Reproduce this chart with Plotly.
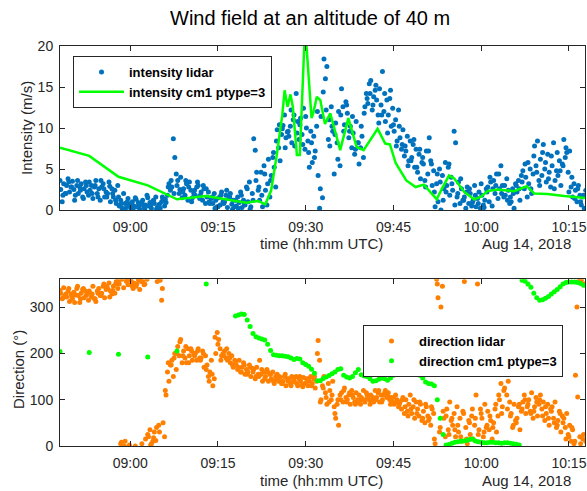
import pandas as pd
import plotly.graph_objects as go

# ---------------- data ----------------
T0 = pd.Timestamp("2018-08-14 08:48:00")
T_END = pd.Timestamp("2018-08-14 10:17:45")

# lidar samples, main scan: 4 samples per minute starting 08:48
LIDAR_PER_MIN = 4
speed_lidar = [
    2.5, 1.0, 3.2, 2.0,  3.0, 3.8, 2.2, 2.8,  3.5, 2.5, 1.8, 3.0,  2.0, 2.8, 3.2, 1.6,
    2.6, 3.4, 2.2, 1.8,  2.4, 3.0, 1.4, 2.8,  3.6, 2.0, 2.6, 1.2,  2.8, 3.2, 1.6, 2.2,
    2.0, 3.4, 1.0, 2.6,  1.6, 2.4, 0.8, 3.0,  0.5, 1.2, 0.2, 2.0,  0.8, 0.3, 1.4, 0.6,
    0.2, 1.0, 0.5, 1.5,  0.4, 0.9, 0.1, 0.7,  1.2, 0.3, 0.6, 1.8,  0.5, 0.9, 0.2, 1.1,
    0.8, 1.6, 0.3, 0.6,  0.2, 1.0, 1.3, 0.5,  0.9, 1.8, 3.2, 2.4,  2.8, 8.7, 6.4, 4.4,
    3.6, 2.0, 4.0, 1.5,  2.6, 1.8, 3.2, 1.2,  3.4, 2.4, 1.5, 2.0,  1.8, 2.8, 3.0, 1.4,
    2.2, 1.2, 2.6, 0.8,  1.6, 2.2, 0.8, 1.4,  0.8, 2.0, 1.2, 0.4,  1.5, 0.6, 2.2, 1.0,
    1.0, 1.8, 0.3, 1.4,  2.0, 0.7, 1.2, 0.4,  0.5, 1.6, 0.9, 2.2,  0.3, 1.2, 0.6, 2.8,
    1.0, 3.4, 0.4, 2.0,  8.7, 7.3, 4.6, 2.4,  1.2, 4.6, 0.4, 5.4,  2.4, 0.6, 6.2, 1.6,
    4.2, 6.4, 5.2, 2.8,  9.8, 7.6, 6.0, 9.2,  10.3, 11.6, 8.8, 9.5,  9.0, 10.2, 8.2, 11.0,
    7.8, 14.2, 10.8, 8.6,  11.2, 9.2, 12.4, 7.4,  10.0, 8.4, 5.2, 9.6,  5.8, 9.0, 7.2, 10.2,
    4.2, 0.2, 11.4, 1.5,  18.4, 16.0, 17.5, 8.6,  7.8, 12.6, 9.6, 4.4,  10.6, 8.2, 12.0, 5.4,
    14.8, 12.6, 10.4, 13.2,  11.8, 8.8, 10.2, 7.6,  9.4, 6.8, 10.8, 8.2,  5.6, 7.6, 9.0, 6.4,
    12.6, 14.2, 13.0, 15.4,  15.8, 12.2, 13.8, 14.6,  13.4, 11.6, 14.8, 12.8,  16.9, 12.0, 10.8, 13.4,
    11.6, 13.6, 10.2, 12.4,  9.6, 11.0, 8.4, 12.2,  8.8, 7.4, 9.8, 6.6,  7.2, 9.0, 6.0, 8.4,
    6.4, 8.0, 5.2, 7.4,  4.6, 6.8, 3.8, 5.8,  5.6, 3.6, 7.2, 4.4,  8.8, 6.0, 3.0, 4.8,
    0.4, 3.2, 1.0, 5.0,  0.0, 4.2, 2.6, 5.8,  3.0, 5.2, 1.8, 4.0,  2.4, 9.6, 8.2, 1.6,
    3.4, 0.8, 2.6, 1.2,  1.6, 0.2, 2.8, 0.8,  2.0, 0.5, 1.2, 3.0,  0.4, 1.4, 2.2, 0.2,
    1.8, 0.6, 1.2, 2.6,  2.8, 1.0, 3.4, 0.5,  3.6, 2.0, 4.4, 1.4,  2.6, 5.4, 3.0, 1.6,
    1.8, 3.8, 2.4, 0.8,  1.0, 2.6, 0.2, 3.2,  2.2, 3.6, 1.2, 4.2,  4.8, 2.6, 4.0, 1.6,
    3.2, 5.0, 2.0, 4.4,  7.8, 5.4, 8.4, 3.6,  6.2, 4.2, 8.0, 5.0,  3.4, 6.8, 4.6, 2.8,
    5.4, 8.2, 3.6, 4.8,  4.2, 6.0, 3.0, 5.6,  8.6, 6.4, 7.0, 4.6,  7.2, 2.8, 1.6, 3.2,
    2.4, 1.0, 3.0, 1.8,  0.6, 1.6, 0.2, 2.4,
]
# lidar samples, second scan: 2 samples per minute starting 08:48
LIDAR_B_PER_MIN = 2
speed_lidar_b = [
    3.6, 1.8,  2.0, 3.4,  2.8, 1.2,  3.6, 2.4,  1.4, 3.0,  3.4, 2.0,  3.0, 1.6,  3.6, 2.6,
    1.6, 2.9,  2.0, 1.2,  1.6, 0.8,  0.1, 1.0,  0.7, 0.1,  1.3, 0.5,  0.9, 0.1,  1.5, 0.6,
    1.2, 0.1,  0.7, 1.6,  1.3, 2.8,  3.6, 2.0,  3.0, 2.5,  2.2, 3.6,  2.8, 1.0,  2.4, 3.4,
    1.8, 3.0,  2.6, 1.0,  1.6, 0.2,  0.4, 1.8,  0.8, 2.4,  1.6, 0.1,  1.2, 0.2,  1.8, 0.8,
    2.6, 0.1,  1.2, 3.6,  2.8, 1.8,  4.4, 3.2,  3.6, 7.0,  8.4, 10.4,  9.9, 7.6,  9.6, 12.2,
    11.6, 9.4,  10.4, 8.0,  11.4, 7.0,  8.2, 6.4,  12.0, 2.6,  14.4, 12.2,  11.0, 10.2,  9.2, 6.2,
    11.6, 9.6,  12.8, 9.6,  11.4, 7.4,  8.2, 10.2,  11.8, 13.6,  14.2, 12.8,  15.2, 10.6,  11.6, 14.2,
    9.4, 14.6,  10.4, 7.8,  10.2, 8.0,  7.8, 5.4,  6.0, 8.6,  5.2, 7.4,  6.4, 2.8,  7.2, 5.6,
    2.2, 4.4,  3.4, 1.2,  2.2, 5.6,  3.2, 0.6,  2.0, 3.8,  1.2, 2.2,  2.6, 0.9,  1.8, 0.8,
    3.2, 0.3,  2.2, 4.0,  2.6, 3.0,  4.4, 2.0,  3.0, 1.2,  1.6, 2.0,  3.0, 2.6,  3.4, 5.6,
    5.8, 2.6,  6.6, 4.6,  3.0, 7.0,  5.8, 3.8,  6.6, 2.6,  7.0, 4.8,  5.4, 7.6,  2.2, 4.0,
    1.4, 2.6,  1.0, 1.8,
]

dir_lidar = [
    330, 318, 342, 325,  322, 335, 312, 328,  318, 332, 326, 340,  325, 310, 330, 338,
    320, 335, 328, 315,  330, 322, 345, 318,  312, 335, 340, 325,  330, 345, 320, 338,
    340, 352, 335, 328,  345, 330, 355, 340,  350, 5, 360, 342,  10, 355, 348, 2,
    358, 345, 352, 0,  350, 360, 338, 355,  355, 348, 15, 360,  20, 35, 5, 10,
    30, 12, 355, 45,  358, 315, 50, 20,  110, 160, 140, 175,  185, 150, 200, 165,
    215, 195, 230, 180,  205, 190, 180, 210,  195, 210, 185, 200,  200, 185, 210, 190,
    190, 205, 170, 195,  175, 150, 160, 185,  130, 145, 200, 245,  230, 210, 195, 200,
    205, 190, 185, 200,  180, 195, 170, 185,  175, 165, 185, 160,  170, 180, 155, 165,
    160, 175, 150, 168,  165, 145, 170, 155,  185, 155, 140, 160,  150, 165, 140, 155,
    145, 160, 135, 150,  155, 140, 148, 135,  140, 150, 130, 145,  145, 135, 150, 140,
    138, 150, 130, 145,  140, 132, 148, 135,  145, 130, 140, 150,  135, 145, 125, 140,
    228, 185, 100, 130,  150, 115, 90, 135,  120, 100, 140, 85,  60, 90, 45, 110,
    115, 95, 125, 105,  100, 110, 90, 120,  105, 95, 115, 100,  110, 90, 100, 120,
    95, 115, 105, 100,  110, 100, 95, 120,  105, 115, 95, 110,  100, 110, 120, 105,
    115, 100, 105, 95,  90, 110, 100, 85,  95, 80, 105, 70,  100, 75, 90, 110,
    70, 85, 60, 95,  80, 65, 90, 55,  75, 50, 85, 65,  60, 45, 80, 70,
    5, 360, 320, 30,  300, 345, 60, 20,  80, 35, 95, 55,  45, 70, 20, 85,
    30, 60, 10, 75,  355, 40, 5, 55,  25, 65, 15, 45,  110, 350, 35, 80,
    60, 20, 90, 40,  75, 35, 55, 15,  50, 80, 30, 65,  100, 135, 85, 120,
    155, 110, 140, 95,  70, 40, 90, 55,  60, 85, 35, 75,  95, 110, 70, 85,
    100, 75, 115, 60,  85, 105, 65, 90,  110, 80, 95, 55,  70, 90, 45, 80,
    85, 60, 95, 40,  55, 75, 30, 65,  60, 40, 70, 25,  45, 10, 35, 5,
    153, 300, 355, 20,  358, 15, 350, 10,
]
dir_lidar_b = [
    336, 320,  328, 340,  322, 310,  345, 318,  340, 325,  335, 328,  318, 330,  325, 350,
    345, 322,  336, 350,  355, 8,  0, 358,  348, 340,  345, 358,  5, 350,  25, 2,
    18, 40,  30, 340,  120, 180,  175, 190,  200, 225,  195, 215,  180, 205,  195, 205,
    185, 200,  165, 140,  155, 235,  220, 185,  195, 210,  190, 175,  180, 170,  160, 175,
    155, 170,  160, 150,  150, 165,  145, 160,  155, 140,  145, 150,  135, 155,  140, 130,
    145, 135,  150, 128,  135, 145,  130, 150,  200, 95,  125, 105,  95, 110,  70, 100,
    100, 120,  95, 115,  110, 90,  95, 105,  100, 110,  90, 105,  100, 120,  95, 115,
    110, 90,  105, 95,  90, 100,  85, 65,  80, 100,  70, 95,  60, 90,  55, 85,
    15, 350,  40, 75,  65, 25,  60, 35,  45, 20,  70, 15,  50, 80,  60, 25,
    70, 30,  45, 65,  40, 90,  110, 70,  125, 80,  65, 45,  50, 90,  80, 100,
    90, 70,  75, 95,  100, 65,  85, 60,  75, 50,  45, 70,  50, 15,  20, 40,
    10, 106,  5, 25,
]

# cm1 simulated intensity (minutes after 08:48, m/s)
speed_cm1_min = [0, 5, 10, 15, 20, 25, 30, 31.9, 33.9, 35.1, 36.1, 37.1, 38.0, 38.4, 38.9,
                 39.4, 39.8, 40.2, 40.5, 41.0, 41.9, 43.0, 43.3, 43.9, 44.5, 45.3, 46.2,
                 47.9, 49.3, 50.7, 51.9, 54.3, 55.6, 56.4, 57.4, 59.2, 60.8, 62.2, 63.6,
                 64.4, 65.3, 66.5, 67.4, 69.1, 70.8, 71.9, 73.1, 74.8, 77.6, 78.8, 79.8,
                 81.1, 83.3, 86.2, 89.0, 89.8]
speed_cm1 = [7.6, 6.6, 4.05, 3.0, 1.3, 1.7, 1.1, 0.9, 1.1, 0.7, 2.4, 6.9, 11.6, 14.6, 12.6,
             14.1, 12.6, 9.7, 6.7, 6.7, 22.5, 11.2, 11.8, 13.8, 13.4, 10.5, 11.8,
             7.3, 11.2, 7.7, 7.3, 9.9, 8.1, 8.0, 5.7, 3.6, 2.8, 3.1, 2.0,
             1.3, 2.6, 4.2, 3.85, 2.2, 1.3, 1.6, 2.3, 2.5, 2.3, 2.6, 2.9,
             2.0, 1.95, 1.7, 1.5, 1.45]

# cm1 simulated direction: 5-min output until 09:13, then 30-s output from 09:18
dir_cm1_sparse_min = [0, 5, 10, 15, 20, 25]
dir_cm1_sparse = [204, 202, 198, 192, 205, 350]
DENSE_START_MIN = 30.0
DENSE_STEP_MIN = 0.5
dir_cm1_dense = [
    281, 283, 285, 284, 272, 258, 243, 236, 233, 231,
    229, 220, 206, 197, 196, 195, 195, 194, 193, 190,
    187, 189, 188, 180, 176, 172, 166, 157, 141, 141,
    146, 149, 152, 156, 160, 165, 167, 153, 149, 147,
    150, 158, 165, 154, 151, 150, 145, 140, 141, 144,
    147, 145, 142, 147, 153, 158, 162, 164, 165, 164,
    165, 162, 158, 153, 147, 138, 135, 134, 130, 100,
    60, 25, 2, 3, 6, 8, 9, 10, 11, 12,
    14, 15, 11, 9, 8, 7, 7, 8, 8, 7,
    7, 6, 7, 7, 6, 5, 4, 2, 358, 356,
    350, 343, 330, 320, 315, 316, 319, 323, 328, 333,
    338, 344, 350, 353, 354, 354, 354, 353, 351, 347,
]

speed_ticks = [0, 5, 10, 15, 20]
dir_ticks = [0, 100, 200, 300]

# ---------------- helpers ----------------
def to_time(minutes):
    return [T0 + pd.Timedelta(minutes=float(m)) for m in minutes]

def sample_minutes(n, per_min, phase):
    return [(i + phase) / per_min for i in range(n)]

speed_t = (sample_minutes(len(speed_lidar), LIDAR_PER_MIN, 0.5)
           + sample_minutes(len(speed_lidar_b), LIDAR_B_PER_MIN, 0.0))
speed_v = speed_lidar + speed_lidar_b
dir_t = (sample_minutes(len(dir_lidar), LIDAR_PER_MIN, 0.5)
         + sample_minutes(len(dir_lidar_b), LIDAR_B_PER_MIN, 0.0))
dir_v = dir_lidar + dir_lidar_b

dir_cm1_min = dir_cm1_sparse_min + [DENSE_START_MIN + DENSE_STEP_MIN * k for k in range(len(dir_cm1_dense))]
dir_cm1 = dir_cm1_sparse + dir_cm1_dense

BLUE = "#0072BD"
ORANGE = "#FF8000"
GREEN = "#00FF00"
AX = "#262626"
FONT = "Liberation Sans, Arial, sans-serif"

fig = go.Figure()
fig.add_trace(go.Scatter(x=to_time(speed_t), y=speed_v, mode="markers",
                         marker=dict(color=BLUE, size=5, line=dict(width=0)),
                         name="intensity lidar", xaxis="x", yaxis="y", legend="legend"))
fig.add_trace(go.Scatter(x=to_time(speed_cm1_min), y=speed_cm1, mode="lines",
                         line=dict(color=GREEN, width=2.5),
                         name="intensity cm1 ptype=3", xaxis="x", yaxis="y", legend="legend"))
fig.add_trace(go.Scatter(x=to_time(dir_t), y=dir_v, mode="markers",
                         marker=dict(color=ORANGE, size=5, line=dict(width=0)),
                         name="direction lidar", xaxis="x2", yaxis="y2", legend="legend2"))
fig.add_trace(go.Scatter(x=to_time(dir_cm1_min), y=dir_cm1, mode="markers",
                         marker=dict(color=GREEN, size=5, line=dict(width=0)),
                         name="direction cm1 ptype=3", xaxis="x2", yaxis="y2", legend="legend2"))

xcommon = dict(type="date", range=[T0, T_END], tickformat="%H:%M",
               tick0="2018-08-14 09:00:00", dtick=15 * 60 * 1000,
               ticks="inside", ticklen=5, tickcolor=AX, showline=True, linecolor=AX,
               linewidth=1, mirror="ticks", showgrid=False, zeroline=False,
               tickfont=dict(family=FONT, size=14, color=AX), ticklabelstandoff=4)
ycommon = dict(ticks="inside", ticklen=5, tickcolor=AX, showline=True, linecolor=AX,
               linewidth=1, mirror="ticks", showgrid=False, zeroline=False,
               tickfont=dict(family=FONT, size=14, color=AX), ticklabelstandoff=3)

top_dom = [(446 - 210) / 400, 1.0]
bot_dom = [0.0, (446 - 279.3) / 400]

fig.update_layout(
    width=587, height=491,
    margin=dict(l=60, r=2, t=46, b=45, autoexpand=False),
    paper_bgcolor="white", plot_bgcolor="white",
    font=dict(family=FONT, color=AX),
    xaxis=dict(**xcommon, domain=[0, 1], anchor="y"),
    yaxis=dict(**ycommon, domain=top_dom, anchor="x", range=[0, 20], tickvals=speed_ticks),
    xaxis2=dict(**xcommon, domain=[0, 1], anchor="y2"),
    yaxis2=dict(**ycommon, domain=bot_dom, anchor="x2", range=[0, 360], tickvals=dir_ticks),
    legend=dict(x=(73 - 60) / 525, y=(446 - 56) / 400, xanchor="left", yanchor="top",
                bgcolor="white", bordercolor=AX, borderwidth=1,
                font=dict(family=FONT, size=13, color="black", weight="bold"),
                itemwidth=45, tracegroupgap=0),
    legend2=dict(x=(363 - 60) / 525, y=(446 - 325) / 400, xanchor="left", yanchor="top",
                 bgcolor="white", bordercolor=AX, borderwidth=1,
                 font=dict(family=FONT, size=13, color="black", weight="bold"),
                 itemwidth=45, tracegroupgap=0),
    showlegend=True,
)

ann = [
    dict(text="Wind field at an altitude of 40 m", x=(310 - 60) / 525, y=(446 - 18) / 400,
         font=dict(size=20, color="black")),
    dict(text="time (hh:mm UTC)", x=0.4985, y=(446 - 243) / 400, font=dict(size=15, color=AX)),
    dict(text="Aug 14, 2018", x=(573 - 60) / 525, y=(446 - 243) / 400, xanchor="right",
         font=dict(size=15, color=AX)),
    dict(text="time (hh:mm UTC)", x=0.4985, y=(446 - 480) / 400, font=dict(size=15, color=AX)),
    dict(text="Aug 14, 2018", x=(573 - 60) / 525, y=(446 - 480) / 400, xanchor="right",
         font=dict(size=15, color=AX)),
    dict(text="Intensity (m/s)", x=(27 - 60) / 525, y=(446 - 128) / 400, textangle=-90,
         font=dict(size=15, color=AX)),
    dict(text="Direction (°)", x=(18 - 60) / 525, y=(446 - 370) / 400, textangle=-90,
         font=dict(size=15, color=AX)),
]
for a in ann:
    a.setdefault("xanchor", "center")
    fig.add_annotation(xref="paper", yref="paper", showarrow=False, yanchor="middle",
                       font_family=FONT, **a)

# remove the browser's default 8 px page margin so the figure fills the window exactly
fig.write_html("out.html",
               config={"displayModeBar": False},
               post_script="document.body.style.margin='0px';document.body.style.overflow='hidden';")
